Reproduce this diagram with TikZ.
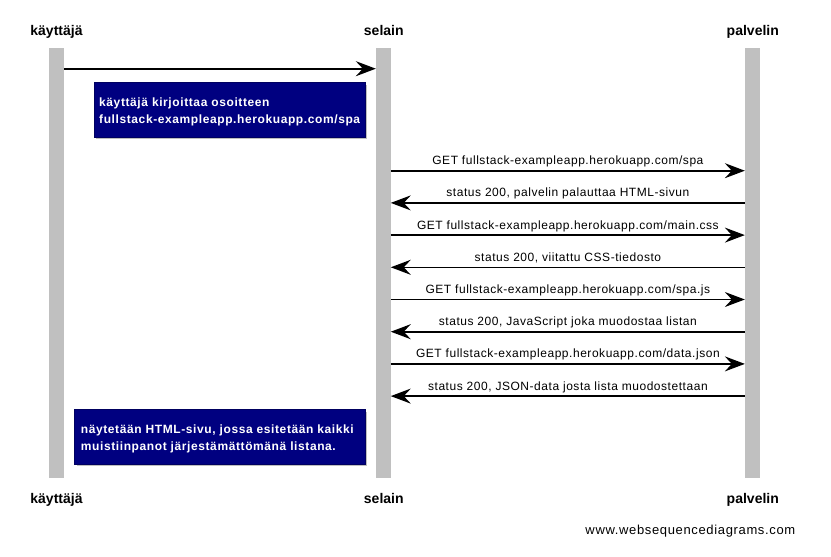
\documentclass[tikz,border=0pt]{standalone}
\usepackage{fontspec}
\setmainfont{Liberation Sans}
\newfontfamily\lblfont[LetterSpace=4.5]{Liberation Sans}
\newfontfamily\notefont[LetterSpace=5]{Liberation Sans}
\newfontfamily\footfont[LetterSpace=5]{Liberation Sans}
\usetikzlibrary{arrows.meta,shadows}
\definecolor{barcol}{HTML}{C0C0C0}
\definecolor{notecol}{HTML}{000080}
\begin{document}
\begin{tikzpicture}[x=1pt,y=-1pt,
 lifeline/.style={fill=barcol, draw=none, minimum width=14.5pt, minimum height=429.3pt, inner sep=0pt, anchor=north},
 actor/.style={anchor=base, inner sep=0pt, font=\fontsize{14}{16}\selectfont\bfseries},
 msg/.style={line width=1.6pt, -{Stealth[length=20pt,width=15pt,inset=7pt]}},
 msglabel/.style={anchor=base, inner sep=0pt, font=\lblfont\fontsize{12}{14}\selectfont},
 notebox/.style={fill=notecol, draw=notecol!75!black, line width=0.5pt, inner sep=0pt, anchor=north west, minimum height=54.5pt,
   drop shadow={shadow xshift=2.2pt, shadow yshift=-2.2pt, opacity=0.5}},
 notetext/.style={anchor=north west, inner sep=0pt, align=left, text=white, font=\notefont\bfseries\fontsize{12}{17}\selectfont},
]
\useasboundingbox (0,0) rectangle (831,557);

% lifelines
\node[lifeline] (kbar) at (56.5,48) {};
\node[lifeline] (sbar) at (383.3,48) {};
\node[lifeline] (pbar) at (752.3,48) {};

% actors
\node[actor] (ktop) at (56.5,35.3) {käyttäjä};
\node[actor] (stop) at (383.8,35.3) {selain};
\node[actor] (ptop) at (752.8,35.3) {palvelin};
\node[actor] (kbot) at (56.5,503) {käyttäjä};
\node[actor] (sbot) at (383.8,503) {selain};
\node[actor] (pbot) at (752.8,503) {palvelin};

% message rows
\coordinate (m0) at (0,68.7);
\coordinate (m1) at (0,170.7);
\coordinate (m2) at (0,202.9);
\coordinate (m3) at (0,235.1);
\coordinate (m4) at (0,267.3);
\coordinate (m5) at (0,299.5);
\coordinate (m6) at (0,331.7);
\coordinate (m7) at (0,363.9);
\coordinate (m8) at (0,396.1);

\draw[msg] (kbar.east |- m0) -- (sbar.west |- m0);

\draw[msg] (sbar.east |- m1) -- (pbar.west |- m1);
\node[msglabel] (l1) at (567.9,164.7) {GET fullstack-exampleapp.herokuapp.com/spa};
\draw[msg] (pbar.west |- m2) -- (sbar.east |- m2);
\node[msglabel] (l2) at (567.9,196.9) {status 200, palvelin palauttaa HTML-sivun};
\draw[msg] (sbar.east |- m3) -- (pbar.west |- m3);
\node[msglabel] (l3) at (567.9,229.1) {GET fullstack-exampleapp.herokuapp.com/main.css};
\draw[msg] (pbar.west |- m4) -- (sbar.east |- m4);
\node[msglabel] (l4) at (567.9,261.3) {status 200, viitattu CSS-tiedosto};
\draw[msg] (sbar.east |- m5) -- (pbar.west |- m5);
\node[msglabel] (l5) at (567.9,293.5) {GET fullstack-exampleapp.herokuapp.com/spa.js};
\draw[msg] (pbar.west |- m6) -- (sbar.east |- m6);
\node[msglabel] (l6) at (567.9,325.7) {status 200, JavaScript joka muodostaa listan};
\draw[msg] (sbar.east |- m7) -- (pbar.west |- m7);
\node[msglabel] (l7) at (567.9,357.9) {GET fullstack-exampleapp.herokuapp.com/data.json};
\draw[msg] (pbar.west |- m8) -- (sbar.east |- m8);
\node[msglabel] (l8) at (567.9,390.1) {status 200, JSON-data josta lista muodostettaan};

% notes
\node[notebox, minimum width=271pt] (n1) at (93.5,82.3) {};
\node[notetext] (t1) at (99,97.4) {käyttäjä kirjoittaa osoitteen\\fullstack-exampleapp.herokuapp.com/spa};
\node[notebox, minimum width=290.2pt] (n2) at (74.3,409.3) {};
\node[notetext] (t2) at (80.7,424.7) {näytetään HTML-sivu, jossa esitetään kaikki\\muistiinpanot järjestämättömänä listana.};

% footer
\node[anchor=base east, inner sep=0pt, font=\footfont\fontsize{13}{15}\selectfont] (wsd) at (795.5,534) {www.websequencediagrams.com};
\end{tikzpicture}
\end{document}
